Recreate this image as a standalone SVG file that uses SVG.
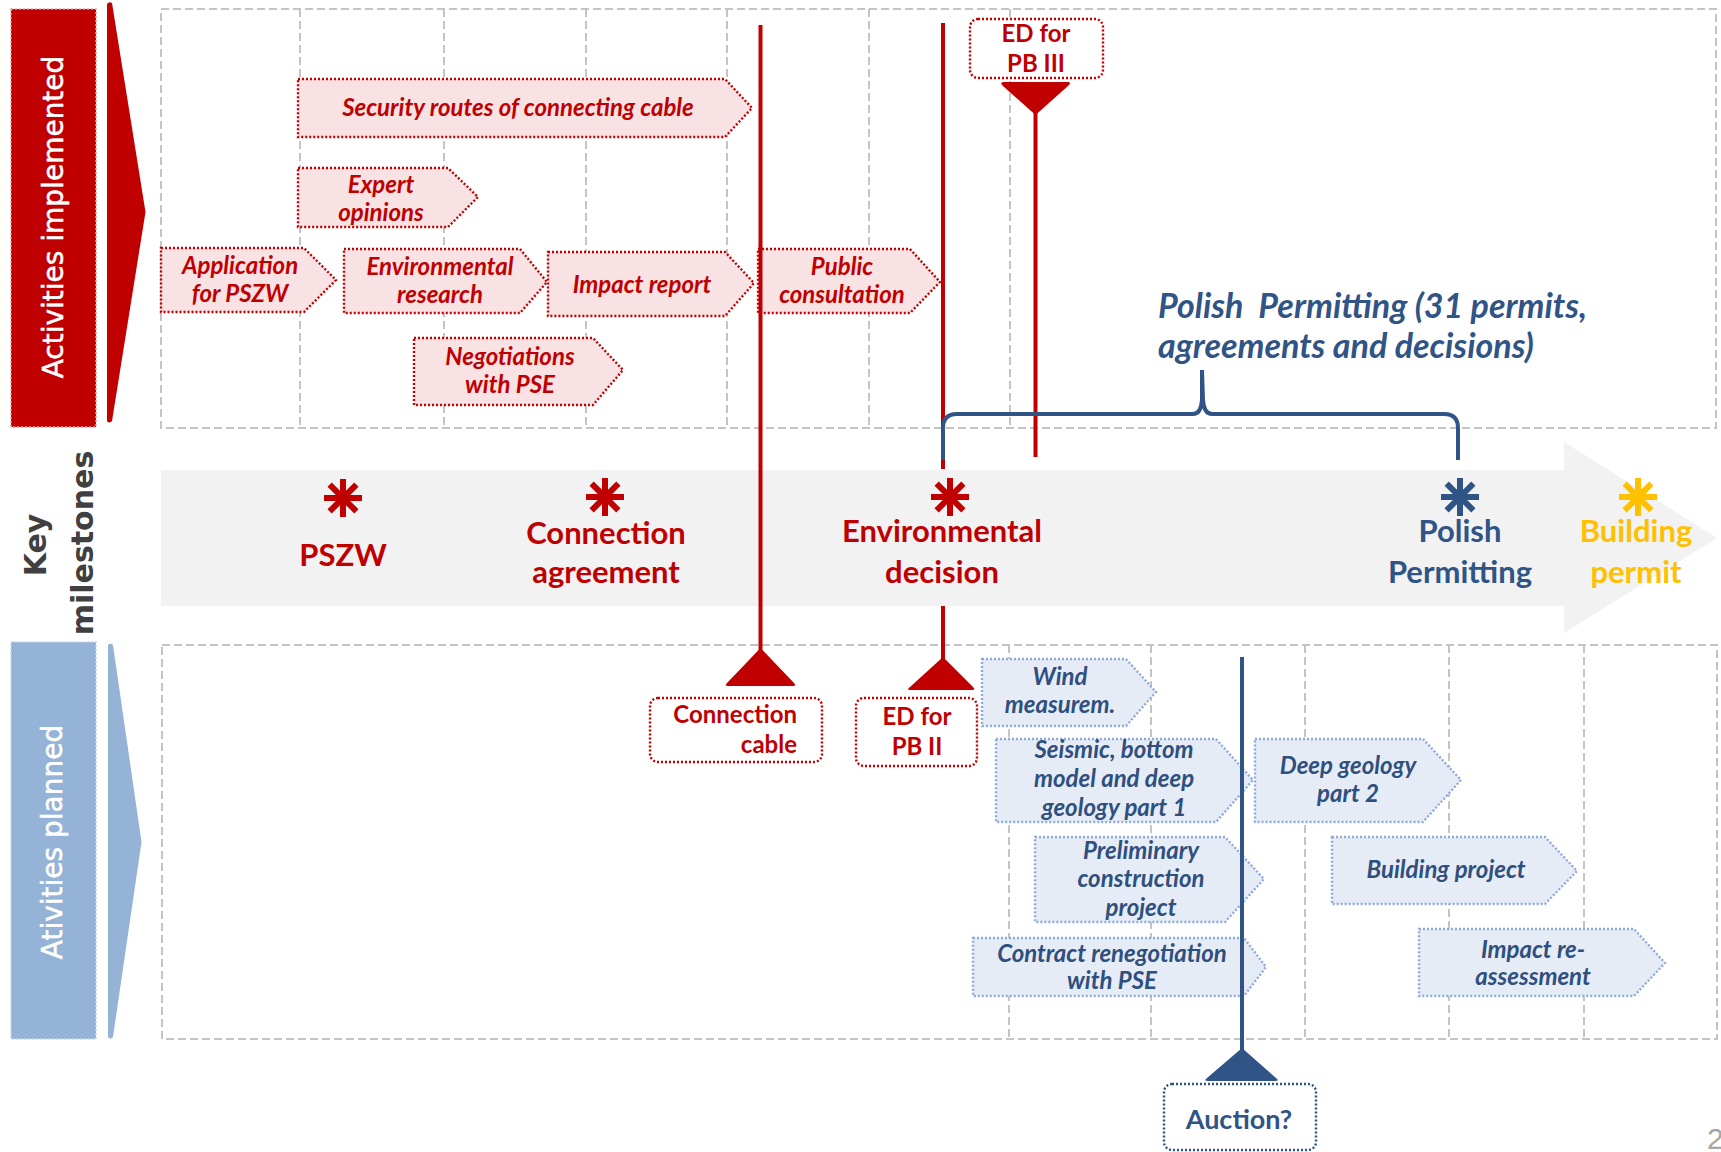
<svg xmlns="http://www.w3.org/2000/svg" width="1721" height="1152" viewBox="0 0 1721 1152">
<style>
.grid{fill:none;stroke:#C4C4C4;stroke-width:2;stroke-dasharray:8 4}
.gl{stroke:#C4C4C4;stroke-width:2;stroke-dasharray:8 4}
.rn{fill:#F8E2E3;stroke:#C00000;stroke-width:2.4;stroke-dasharray:2 2}
.bn{fill:#E5ECF6;stroke:#8EAADB;stroke-width:2.4;stroke-dasharray:2 2}
.rb{fill:#FFFFFF;stroke:#C00000;stroke-width:2.4;stroke-dasharray:2 2}
.bb{fill:#FFFFFF;stroke:#2F5485;stroke-width:2.4;stroke-dasharray:2 2}
.rt{font-family:Lato,"Liberation Sans",sans-serif;font-style:italic;font-weight:bold;font-size:24px;fill:#C00000;text-anchor:middle}
.bt{font-family:Lato,"Liberation Sans",sans-serif;font-style:italic;font-weight:bold;font-size:24px;fill:#2F4F7F;text-anchor:middle}
.bx{font-family:Lato,"Liberation Sans",sans-serif;font-size:24px;font-weight:bold;fill:#C00000;text-anchor:middle}
.ms{font-family:Lato,"Liberation Sans",sans-serif;font-size:31px;font-weight:bold;text-anchor:middle}
.lbl{font-family:"DejaVu Sans",sans-serif;font-size:28px;fill:#FFFFFF;text-anchor:middle;stroke:#FFFFFF;stroke-width:0.5}
.key{font-family:"DejaVu Sans",sans-serif;font-weight:bold;font-size:30px;fill:#404040;text-anchor:middle}
.red{stroke:#C00000;stroke-width:4;fill:none}
.blue{stroke:#2F5485;stroke-width:4;fill:none}
.pp{font-family:Lato,"Liberation Sans",sans-serif;font-style:italic;font-weight:bold;font-size:34px;fill:#2F5485}
</style>
<defs>
<g id="ast"><line x1="0" y1="-19" x2="0" y2="19"/><line x1="-19" y1="0" x2="19" y2="0"/><line x1="-13.4" y1="-13.4" x2="13.4" y2="13.4"/><line x1="-13.4" y1="13.4" x2="13.4" y2="-13.4"/></g>
</defs>
<rect width="1721" height="1152" fill="#FFFFFF"/>

<g id="grid">
<rect class="grid" x="161" y="9" width="1555" height="419"/>
<line class="gl" x1="300" y1="9" x2="300" y2="428"/>
<line class="gl" x1="444" y1="9" x2="444" y2="428"/>
<line class="gl" x1="586" y1="9" x2="586" y2="428"/>
<line class="gl" x1="727" y1="9" x2="727" y2="428"/>
<line class="gl" x1="869" y1="9" x2="869" y2="428"/>
<line class="gl" x1="1010" y1="9" x2="1010" y2="428"/>
<rect class="grid" x="162" y="645" width="1555" height="394"/>
<line class="gl" x1="1009" y1="645" x2="1009" y2="1039"/>
<line class="gl" x1="1151" y1="645" x2="1151" y2="1039"/>
<line class="gl" x1="1305" y1="645" x2="1305" y2="1039"/>
<line class="gl" x1="1449" y1="645" x2="1449" y2="1039"/>
<line class="gl" x1="1584" y1="645" x2="1584" y2="1039"/>
</g>

<g id="label-implemented">
<rect x="11" y="9" width="85" height="418" fill="#C00000" stroke="#E8A0A0" stroke-width="1.5" stroke-dasharray="2 2"/>
<path d="M107,4 Q109,1 112,3 L145.5,212 L112,421 Q109,424 107,421 Z" fill="#C00000"/>
<text class="lbl" transform="translate(63,217) rotate(-90)">Activities implemented</text>
</g>
<g id="label-planned">
<rect x="11" y="642" width="85" height="397" fill="#95B3D7" stroke="#C5D6EA" stroke-width="1.5" stroke-dasharray="2 2"/>
<path d="M108,645 Q110,642 113,645 L141.5,842 L113,1037 Q110,1040 108,1037 Z" fill="#95B3D7"/>
<text class="lbl" transform="translate(62,842) rotate(-90)">Ativities planned</text>
</g>
<g id="label-milestones">
<text class="key" transform="translate(46,545) rotate(-90)">Key</text>
<text class="key" transform="translate(93,543) rotate(-90)">milestones</text>
</g>

<g id="band">
<polygon points="161,470 1564,470 1564,442 1717,538 1564,633 1564,606 161,606" fill="#F2F2F2"/>
</g>

<g id="milestone-pszw">
<use href="#ast" x="343" y="498" stroke="#C00000" stroke-width="6"/>
<text class="ms" x="343" y="566" fill="#C00000">PSZW</text>
</g>
<g id="milestone-connection">
<use href="#ast" x="605" y="497" stroke="#C00000" stroke-width="6"/>
<text class="ms" x="606" y="544" fill="#C00000">Connection</text>
<text class="ms" x="606" y="583" fill="#C00000">agreement</text>
</g>
<g id="milestone-env">
<use href="#ast" x="950" y="497" stroke="#C00000" stroke-width="6"/>
<text class="ms" x="942" y="542" fill="#C00000">Environmental</text>
<text class="ms" x="942" y="583" fill="#C00000">decision</text>
</g>
<g id="milestone-polish">
<use href="#ast" x="1460" y="497" stroke="#2F5485" stroke-width="6"/>
<text class="ms" x="1460" y="542" fill="#2F5485">Polish</text>
<text class="ms" x="1460" y="583" fill="#2F5485">Permitting</text>
</g>
<g id="milestone-building">
<use href="#ast" x="1638" y="497" stroke="#FFC000" stroke-width="6"/>
<text class="ms" x="1636" y="542" fill="#FFC000">Building</text>
<text class="ms" x="1636" y="583" fill="#FFC000">permit</text>
</g>

<g id="node-security">
<polygon class="rn" points="298,79 725,79 752,108 725,137 298,137"/>
<text class="rt" x="518" y="116">Security routes of connecting cable</text>
</g>
<g id="node-expert">
<polygon class="rn" points="298,168 448,168 478,197 448,227 298,227"/>
<text class="rt" x="381" y="193">Expert</text>
<text class="rt" x="381" y="221">opinions</text>
</g>
<g id="node-application">
<polygon class="rn" points="161,248 304,248 336,280 304,312 161,312"/>
<text class="rt" x="240" y="274">Application</text>
<text class="rt" x="240" y="302">for PSZW</text>
</g>
<g id="node-environmental">
<polygon class="rn" points="344,249 520,249 547,282 520,313 344,313"/>
<text class="rt" x="440" y="275">Environmental</text>
<text class="rt" x="440" y="303">research</text>
</g>
<g id="node-impact">
<polygon class="rn" points="548,252 725,252 754,283 725,316 548,316"/>
<text class="rt" x="642" y="293">Impact report</text>
</g>
<g id="node-public">
<polygon class="rn" points="758,249 910,249 940,282 910,313 758,313"/>
<text class="rt" x="842" y="275">Public</text>
<text class="rt" x="842" y="303">consultation</text>
</g>
<g id="node-negotiations">
<polygon class="rn" points="414,338 593,338 623,370 593,405 414,405"/>
<text class="rt" x="510" y="365">Negotiations</text>
<text class="rt" x="510" y="393">with PSE</text>
</g>
<g id="node-ed3">
<rect class="rb" x="970" y="19" width="133" height="59" rx="8"/>
<text class="bx" x="1036" y="42">ED for</text>
<text class="bx" x="1036" y="72">PB III</text>
</g>
<g id="node-cable">
<rect class="rb" x="650" y="698" width="172" height="64" rx="8"/>
<text class="bx" x="797" y="723" style="text-anchor:end">Connection</text>
<text class="bx" x="797" y="753" style="text-anchor:end">cable</text>
</g>
<g id="node-ed2">
<rect class="rb" x="856" y="698" width="121" height="68" rx="8"/>
<text class="bx" x="917" y="725">ED for</text>
<text class="bx" x="917" y="755">PB II</text>
</g>
<g id="node-polish-permitting">
<text class="pp" x="1158" y="318">Polish&#160; Permitting (31 permits,</text>
<text class="pp" x="1158" y="358">agreements and decisions)</text>
</g>

<g id="node-wind">
<polygon class="bn" points="982,659 1126,659 1156,692 1126,726 982,726"/>
<text class="bt" x="1060" y="685">Wind</text>
<text class="bt" x="1060" y="713">measurem.</text>
</g>
<g id="node-seismic">
<polygon class="bn" points="996,739 1216,739 1253,780 1216,822 996,822"/>
<text class="bt" x="1114" y="758">Seismic, bottom</text>
<text class="bt" x="1114" y="787">model and deep</text>
<text class="bt" x="1114" y="816">geology part 1</text>
</g>
<g id="node-deep">
<polygon class="bn" points="1255,739 1423,739 1461,780 1423,822 1255,822"/>
<text class="bt" x="1348" y="774">Deep geology</text>
<text class="bt" x="1348" y="802">part 2</text>
</g>
<g id="node-preliminary">
<polygon class="bn" points="1035,837 1225,837 1264,879 1225,922 1035,922"/>
<text class="bt" x="1141" y="859">Preliminary</text>
<text class="bt" x="1141" y="887">construction</text>
<text class="bt" x="1141" y="916">project</text>
</g>
<g id="node-building">
<polygon class="bn" points="1332,837 1545,837 1577,871 1545,904 1332,904"/>
<text class="bt" x="1446" y="878">Building project</text>
</g>
<g id="node-contract">
<polygon class="bn" points="973,938 1244,938 1266,967 1244,996 973,996"/>
<text class="bt" x="1112" y="962">Contract renegotiation</text>
<text class="bt" x="1112" y="989">with PSE</text>
</g>
<g id="node-reassess">
<polygon class="bn" points="1419,929 1634,929 1665,963 1634,996 1419,996"/>
<text class="bt" x="1533" y="958">Impact re-</text>
<text class="bt" x="1533" y="985">assessment</text>
</g>
<g id="node-auction">
<rect class="bb" x="1164" y="1084" width="152" height="66" rx="8"/>
<text x="1239" y="1129" font-family="Lato, 'Liberation Sans', sans-serif" font-size="27" font-weight="bold" fill="#2F5485" text-anchor="middle">Auction?</text>
</g>

<g id="connectors">
<line class="red" x1="760.5" y1="25" x2="760.5" y2="652"/>
<path d="M760.5,648 L727,683 Q724,686 728,686 L793,686 Q797,686 794,683 Z" fill="#C00000"/>
<line class="red" x1="943" y1="23" x2="943" y2="469"/>
<line class="red" x1="943" y1="606" x2="943" y2="660"/>
<path d="M943,657 L910,687 Q906,690 910,690 L972,690 Q976,690 973,687 Z" fill="#C00000"/>
<line class="red" x1="1035.5" y1="112" x2="1035.5" y2="457"/>
<path d="M1035.5,115 L1003,86 Q999,82 1004,82 L1068,82 Q1072,82 1068,86 Z" fill="#C00000"/>
<path class="blue" d="M943,460 L943,428 Q943,414 957,414 L1193,414 Q1201,414 1202,400 L1202,370 L1203,400 Q1204,414 1212,414 L1444,414 Q1458,414 1458,428 L1458,460" stroke-width="3.5"/>
<line class="blue" x1="1242" y1="657" x2="1242" y2="1050"/>
<path d="M1242,1048 L1207,1078 Q1203,1081 1208,1081 L1275,1081 Q1280,1081 1276,1078 Z" fill="#2F5485"/>
</g>

<text x="1707" y="1149" font-family="'Liberation Sans', sans-serif" font-size="30" fill="#A6A6A6">2</text>
</svg>
